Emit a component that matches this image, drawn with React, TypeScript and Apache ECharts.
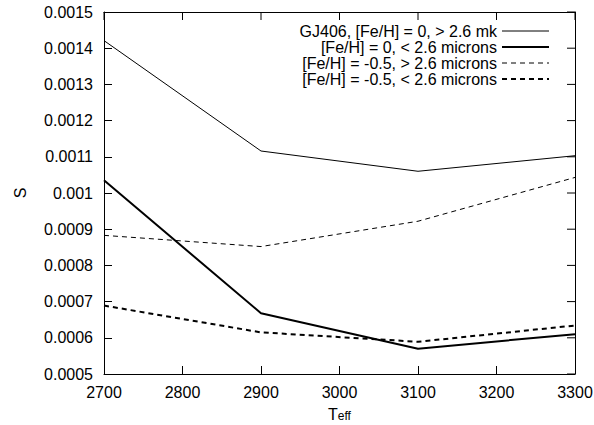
import React, { useEffect, useRef } from "react";
import * as echarts from "echarts";

const temps = [2700, 2900, 3100, 3300];
const names = [
  "GJ406, [Fe/H] = 0, > 2.6 mk",
  "[Fe/H] = 0, < 2.6 microns",
  "[Fe/H] = -0.5, > 2.6 microns",
  "[Fe/H] = -0.5, < 2.6 microns",
];
const gj406Long = [0.001421, 0.001116, 0.00106, 0.001103];
const solarShort = [0.001035, 0.000668, 0.00057, 0.00061];
const poorLong = [0.000883, 0.000852, 0.000922, 0.001043];
const poorShort = [0.000689, 0.000615, 0.000589, 0.000634];
const xTicks = [2700, 2800, 2900, 3000, 3100, 3200, 3300];
const yTicks = [0.0005, 0.0006, 0.0007, 0.0008, 0.0009, 0.001, 0.0011, 0.0012, 0.0013, 0.0014, 0.0015];
const widths = [1, 2, 1, 2];
const dashed = [false, false, true, true];

const FONT = "Liberation Sans, Arial, Helvetica, sans-serif";
const TICK_LEN = 8;
const GRID = { left: 104, right: 19, top: 12, bottom: 51 };

export default function App() {
  const ref = useRef<HTMLDivElement>(null);
  useEffect(() => {
    if (!ref.current) return;
    const chart = echarts.init(ref.current, null, { renderer: "svg" });
    const mk = (d: number[]) => d.map((v, i) => [temps[i], v]);
    const axisLine = { show: true, onZero: false, lineStyle: { color: "#000", width: 1 } };
    const tick = { show: true, inside: true, length: TICK_LEN, lineStyle: { color: "#000", width: 1 } };
    const dash = (i: number) => (dashed[i] ? [5, 4] : "solid");
    const xMin = xTicks[0];
    const xMax = xTicks[xTicks.length - 1];
    const yMin = yTicks[0];
    const yMax = yTicks[yTicks.length - 1];
    const lineSeries = (i: number, data: number[]) => ({
      type: "line",
      name: names[i],
      data: mk(data),
      symbol: "none",
      showSymbol: false,
      lineStyle: { color: "#000", width: widths[i], type: dash(i) },
      itemStyle: { color: "#000" },
    });
    chart.setOption({
      animation: false,
      textStyle: { fontFamily: FONT },
      grid: { ...GRID, containLabel: false, outerBoundsMode: "none" },
      legend: {
        orient: "vertical",
        right: 39,
        top: 18,
        align: "right",
        itemWidth: 47,
        itemHeight: 10,
        itemGap: 0,
        itemStyle: { opacity: 0, borderWidth: 0 },
        data: names.map((n, i) => ({
          name: n,
          itemStyle: { opacity: 0, borderWidth: 0 },
          lineStyle: { color: "#000", width: widths[i], type: dash(i) },
        })),
        textStyle: { fontFamily: FONT, fontSize: 16, color: "#000", lineHeight: 15 },
      },
      xAxis: [
        {
          type: "value",
          min: xMin,
          max: xMax,
          interval: 100,
          position: "bottom",
          axisLine,
          axisTick: tick,
          splitLine: { show: false },
          axisLabel: { fontSize: 16, color: "#000", margin: 10, fontFamily: FONT, formatter: (v: number) => String(v) },
          name: "T{sub|eff}",
          nameLocation: "middle",
          nameGap: 32,
          nameTextStyle: {
            fontSize: 16,
            color: "#000",
            fontFamily: FONT,
            lineHeight: 16,
            rich: { sub: { fontSize: 12, lineHeight: 16, verticalAlign: "bottom", padding: [4, 0, 0, 0], fontFamily: FONT } },
          },
        },
        {
          type: "value",
          min: xMin,
          max: xMax,
          interval: 100,
          position: "top",
          axisLine,
          axisTick: { show: false },
          splitLine: { show: false },
          axisLabel: { show: false },
        },
      ],
      yAxis: [
        {
          type: "value",
          min: yMin,
          max: yMax,
          interval: 0.0001,
          position: "left",
          axisLine,
          axisTick: tick,
          splitLine: { show: false },
          axisLabel: { fontSize: 16, color: "#000", margin: 11, fontFamily: FONT },
          name: "S",
          nameLocation: "middle",
          nameGap: 76,
          nameTextStyle: { fontSize: 16, color: "#000", fontFamily: FONT },
        },
        {
          type: "value",
          min: yMin,
          max: yMax,
          interval: 0.0001,
          position: "right",
          axisLine,
          axisTick: { show: false },
          splitLine: { show: false },
          axisLabel: { show: false },
        },
      ],
      series: [
        lineSeries(0, gj406Long),
        lineSeries(1, solarShort),
        lineSeries(2, poorLong),
        lineSeries(3, poorShort),
      ],
    });

    // mirror ticks on the top and right borders
    const W = chart.getWidth();
    const H = chart.getHeight();
    const toPx = (x: number, y: number): [number, number] => {
      try {
        const p = chart.convertToPixel({ gridIndex: 0 }, [x, y]) as number[];
        if (p && isFinite(p[0]) && isFinite(p[1])) return [p[0], p[1]];
      } catch (e) {
        /* fall through */
      }
      const pw = W - GRID.left - GRID.right;
      const ph = H - GRID.top - GRID.bottom;
      return [
        GRID.left + ((x - xMin) / (xMax - xMin)) * pw,
        GRID.top + (1 - (y - yMin) / (yMax - yMin)) * ph,
      ];
    };
    const graphics: any[] = [];
    xTicks.forEach((v) => {
      const [x, y] = toPx(v, yMax);
      graphics.push({
        type: "line",
        z: 10,
        shape: { x1: x, y1: y, x2: x, y2: y + TICK_LEN },
        style: { stroke: "#000", lineWidth: 1 },
        silent: true,
      });
    });
    yTicks.forEach((v) => {
      const [x, y] = toPx(xMax, v);
      graphics.push({
        type: "line",
        z: 10,
        shape: { x1: x - TICK_LEN, y1: y, x2: x, y2: y },
        style: { stroke: "#000", lineWidth: 1 },
        silent: true,
      });
    });
    chart.setOption({ graphic: { elements: graphics } });
    return () => chart.dispose();
  }, []);
  return <div ref={ref} style={{ width: 594, height: 425, position: "absolute", left: 0, top: 0 }} />;
}
